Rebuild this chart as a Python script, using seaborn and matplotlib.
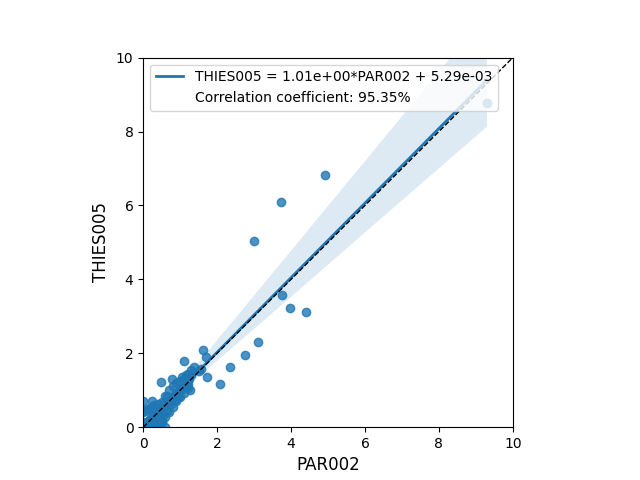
import matplotlib
matplotlib.use("Agg")
import matplotlib.pyplot as plt
import seaborn as sns
import numpy as np
import pandas as pd

# Dense cluster of small, nearly equal values (PAR002, THIES005)
par_dense = [0.01, 0.02, 0.02, 0.03, 0.03, 0.04, 0.04, 0.05, 0.05, 0.06,
             0.06, 0.07, 0.07, 0.08, 0.08, 0.09, 0.09, 0.10, 0.10, 0.11,
             0.11, 0.12, 0.12, 0.13, 0.13, 0.14, 0.14, 0.15, 0.15, 0.16,
             0.16, 0.17, 0.18, 0.19, 0.20, 0.21, 0.22, 0.23, 0.24, 0.25,
             0.26, 0.27, 0.28, 0.29, 0.30, 0.31, 0.32, 0.33, 0.34, 0.35,
             0.36, 0.37, 0.38, 0.39, 0.40, 0.42, 0.44, 0.46, 0.48, 0.50,
             0.01, 0.02, 0.03, 0.04, 0.05, 0.06, 0.07, 0.08, 0.09, 0.10,
             0.12, 0.14, 0.16, 0.18, 0.20, 0.22, 0.24, 0.26, 0.28, 0.30,
             0.03, 0.05, 0.07, 0.09, 0.11, 0.13, 0.15, 0.17, 0.19, 0.21]
thi_dense = [0.02, 0.01, 0.03, 0.04, 0.02, 0.05, 0.03, 0.06, 0.04, 0.05,
             0.07, 0.06, 0.08, 0.07, 0.09, 0.08, 0.10, 0.09, 0.11, 0.10,
             0.12, 0.11, 0.13, 0.12, 0.14, 0.13, 0.15, 0.14, 0.16, 0.15,
             0.17, 0.16, 0.19, 0.18, 0.21, 0.20, 0.22, 0.22, 0.25, 0.24,
             0.26, 0.26, 0.29, 0.28, 0.30, 0.30, 0.33, 0.32, 0.34, 0.34,
             0.37, 0.36, 0.38, 0.38, 0.41, 0.41, 0.44, 0.45, 0.48, 0.49,
             0.00, 0.03, 0.02, 0.05, 0.04, 0.07, 0.06, 0.09, 0.08, 0.11,
             0.11, 0.15, 0.15, 0.19, 0.19, 0.23, 0.23, 0.27, 0.27, 0.31,
             0.03, 0.04, 0.08, 0.08, 0.12, 0.12, 0.16, 0.16, 0.20, 0.20]

# Scattered small values
par_small = [0.00, 0.00, 0.00, 0.00, 0.00,
             0.00, 0.00, 0.00,
             0.15, 0.30, 0.45, 0.60,
             0.05, 0.10, 0.12, 0.18, 0.20, 0.25, 0.30, 0.33, 0.38, 0.40,
             0.45, 0.50, 0.52, 0.58, 0.62, 0.66, 0.70, 0.75, 0.80, 0.85,
             0.90, 0.95, 1.00, 1.05, 1.10, 1.15, 1.20,
             0.20, 0.20, 0.30, 0.30, 0.40, 0.40, 0.50, 0.50, 0.60, 0.60,
             0.70, 0.70, 0.80, 0.80, 0.90, 0.90, 1.00, 1.00, 1.10, 1.10,
             1.20, 1.27, 1.18,
             0.05, 0.10, 0.15, 0.25, 0.35, 0.45, 0.55, 0.65,
             0.35, 0.45, 0.55, 0.65, 0.75, 0.85, 0.95,
             1.05, 1.15, 1.20, 1.30, 1.28,
             0.40, 0.45, 0.50, 0.42, 0.38, 0.48]
thi_small = [0.00, 0.00, 0.00, 0.00, 0.00,
             0.15, 0.40, 0.70,
             0.00, 0.00, 0.00, 0.00,
             0.08, 0.07, 0.15, 0.20, 0.17, 0.28, 0.27, 0.35, 0.36, 0.43,
             0.44, 0.52, 0.49, 0.60, 0.60, 0.68, 0.70, 0.73, 0.82, 0.84,
             0.92, 0.93, 1.02, 1.03, 1.10, 1.16, 1.18,
             0.55, 0.02, 0.60, 0.08, 0.62, 0.12, 0.68, 0.18, 0.85, 0.28,
             1.02, 0.40, 1.12, 0.55, 1.20, 0.70, 1.25, 0.82, 1.30, 0.92,
             1.05, 1.00, 1.12,
             0.45, 0.50, 0.50, 0.70, 0.50, 0.50, 0.65, 0.85,
             0.15, 0.25, 0.35, 0.45, 0.63, 0.73, 0.83,
             1.35, 1.40, 1.45, 1.55, 1.40,
             0.10, 0.15, 0.15, 0.10, 0.12, 0.20]

# Larger events
par_large = [0.48, 0.77, 1.10, 1.20, 1.25, 1.37, 1.50, 1.56, 1.62, 1.70, 1.73,
             2.08, 2.35, 2.75, 3.10, 3.00, 3.73, 4.92, 3.76, 3.97, 4.41, 9.30]
thi_large = [1.22, 1.31, 1.79, 1.28, 1.30, 1.63, 1.52, 1.57, 2.09, 1.90, 1.36,
             1.17, 1.63, 1.96, 2.31, 5.04, 6.09, 6.82, 3.58, 3.22, 3.11, 8.77]

par002 = par_dense + par_small + par_large
thies005 = thi_dense + thi_small + thi_large

fit_label = "THIES005 = 1.01e+00*PAR002 + 5.29e-03"
corr_label = "Correlation coefficient: 95.35%"

df = pd.DataFrame({"PAR002": par002, "THIES005": thies005})

fig = plt.figure(figsize=(6.4, 4.8), dpi=100)
ax = fig.add_subplot(111)

sns.regplot(data=df, x="PAR002", y="THIES005", ax=ax, color="#1f77b4",
            seed=0, line_kws={"lw": 2, "label": fit_label})
ax.plot([0, 10], [0, 10], "k--", lw=1)
ax.plot([], [], " ", label=corr_label)

ax.set_xlim(0, 10)
ax.set_ylim(0, 10)
ax.set_aspect("equal")
ax.set_xticks([0, 2, 4, 6, 8, 10])
ax.set_yticks([0, 2, 4, 6, 8, 10])
ax.set_xlabel("PAR002", fontsize=12)
ax.set_ylabel("THIES005", fontsize=12)
ax.legend(loc="upper left")

fig.savefig("out.png", dpi=100)
